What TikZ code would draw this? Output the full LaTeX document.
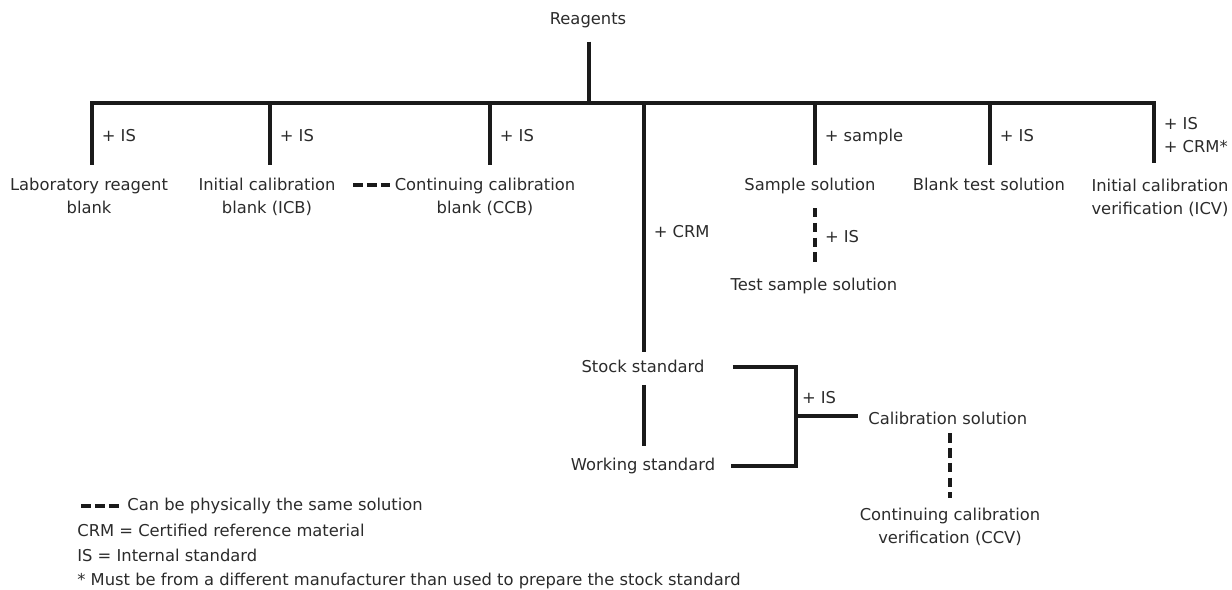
\documentclass[tikz,border=0pt]{standalone}
\usepackage{fontspec}
\setmainfont{DejaVu Sans}
\definecolor{inkgray}{HTML}{2B2B2B}
\definecolor{linegray}{HTML}{1A1A1A}
\begin{document}
\begin{tikzpicture}[x=0.02cm, y=-0.02cm,
    every node/.style={font=\fontsize{9.3}{13}\selectfont, text=inkgray},
    soln/.style={align=center, inner sep=0pt},
    tag/.style={anchor=west, inner sep=0pt, xshift=4.5pt, text height=6.8pt, text depth=0pt},
    note/.style={anchor=west, inner sep=0pt},
    link/.style={draw=linegray, line width=2.2pt},
    same/.style={draw=linegray, line width=2.4pt, dash pattern=on 5.7pt off 2.2pt},
    samev/.style={draw=linegray, line width=2.4pt, dash pattern=on 5.3pt off 3.1pt}]
  \useasboundingbox (0,0) rectangle (1232,590);

  % solutions
  \node[soln] (reag) at (588,20) {Reagents};
  \node[soln, anchor=north] (lrb) at (89,178) {Laboratory reagent\\blank};
  \node[soln, anchor=north] (icb) at (267,178) {Initial calibration\\blank (ICB)};
  \node[soln, anchor=north] (ccb) at (485,178) {Continuing calibration\\blank (CCB)};
  \node[soln, anchor=north] (smp) at (810,178) {Sample solution};
  \node[soln, anchor=north] (btst) at (989,178) {Blank test solution};
  \node[soln, anchor=north] (icv) at (1160,179) {Initial calibration\\verification (ICV)};
  \node[soln, anchor=north] (tsmp) at (814,278) {Test sample solution};
  \node[soln, anchor=north] (stock) at (643,360) {Stock standard};
  \node[soln, anchor=north] (work) at (643,458) {Working standard};
  \node[soln, anchor=west] (calib) at (868,418) {Calibration solution};
  \node[soln, anchor=north] (ccv) at (950,508) {Continuing calibration\\verification (CCV)};

  % branch points
  \coordinate (hub) at (589,103);
  \coordinate (b1) at (92,103);
  \coordinate (b2) at (270,103);
  \coordinate (b3) at (490,103);
  \coordinate (b4) at (644,103);
  \coordinate (b5) at (815,103);
  \coordinate (b6) at (990,103);
  \coordinate (b7) at (1154,103);
  \coordinate (jn) at (796,416);

  \draw[link, shorten <=7.8pt] (hub |- reag.south) to (hub);
  \draw[link, shorten <=7.4pt, shorten >=9pt] (b1 |- lrb.north) -- node[tag, pos=0.57] {+ IS} (b1) -- (b7)
    -- node[tag, pos=0.42, align=left, text height=, text depth=] {+ IS\\+ CRM*} (b7 |- icv.north);
  \draw[link, shorten >=7.4pt] (b2) -- node[tag, pos=0.43] {+ IS} (b2 |- icb.north);
  \draw[link, shorten >=7.4pt] (b3) -- node[tag, pos=0.43] {+ IS} (b3 |- ccb.north);
  \draw[link, shorten >=7.4pt] (b5) -- node[tag, pos=0.43] {+ sample} (b5 |- smp.north);
  \draw[link, shorten >=7.4pt] (b6) -- node[tag, pos=0.43] {+ IS} (b6 |- btst.north);
  \draw[link, shorten >=4.5pt] (b4) -- node[tag, midway] {+ CRM} (b4 |- stock.north);
  \draw[samev, shorten <=7.7pt, shorten >=7.4pt] (smp.south -| b5) -- node[tag] {+ IS} (tsmp.north -| b5);
  \draw[link, shorten <=6.5pt, shorten >=6.8pt] (stock.south -| b4) to (work.north -| b4);
  \draw[link, shorten <=16pt, shorten >=9pt] (stock.east) -| (jn) |- (work.east);
  \draw[link, shorten >=5.5pt] (jn) -- node[above=6pt, pos=0.32, inner sep=0pt] {+ IS} (jn -| calib.west);
  \draw[samev, shorten <=5pt, shorten >=5.7pt] (ccv.north |- calib.south) -- (ccv.north);

  % same-solution marks
  \coordinate (mk) at (353,185);
  \draw[same, shorten >=2.5pt] (mk) -- (mk -| ccb.west);

  % key
  \node[note] (key1) at (127,506) {Can be physically the same solution};
  \node[note] (key2) at (77,530) {CRM = Certified reference material};
  \node[note] (key3) at (77,555) {IS = Internal standard};
  \node[note] (key4) at (77,581) {* Must be from a different manufacturer than used to prepare the stock standard};
  \coordinate (km) at (81,506);
  \draw[same, shorten >=3pt] (km) -- (km -| key1.west);
\end{tikzpicture}
\end{document}
